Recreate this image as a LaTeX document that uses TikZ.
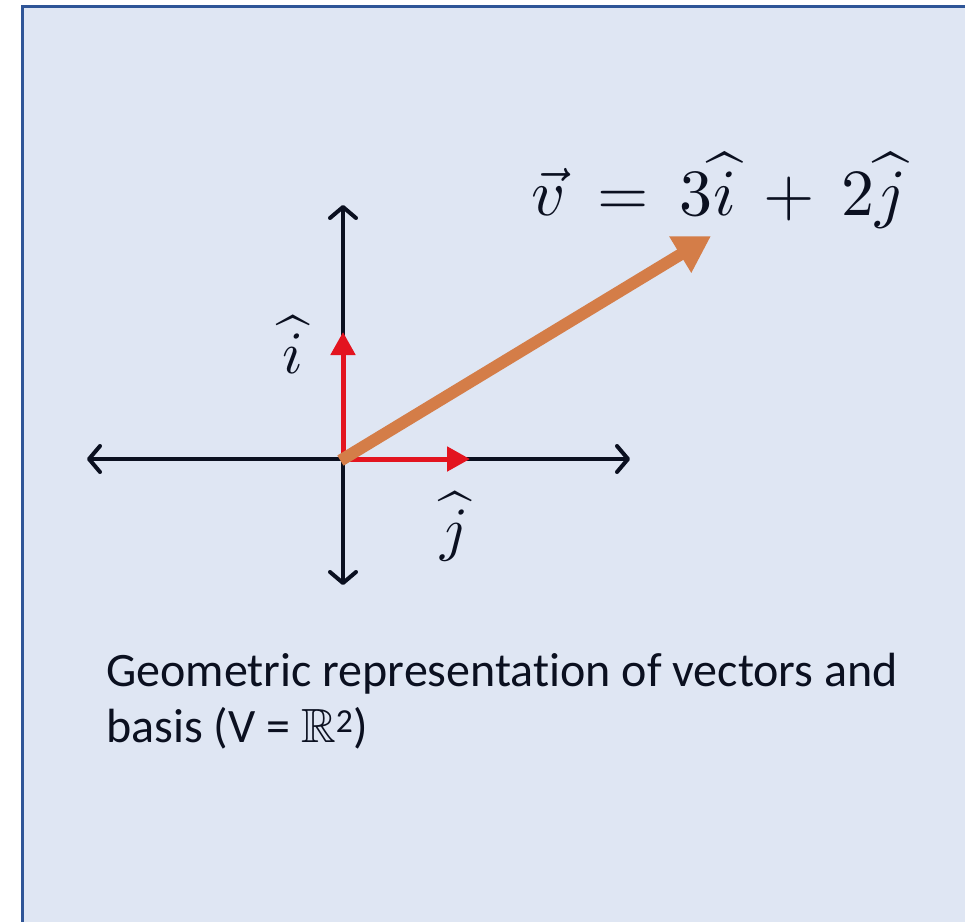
\documentclass[tikz,border=0pt]{standalone}
\usepackage{amsmath,amssymb}
\usepackage{graphicx}
\usepackage{fontspec}
\setmainfont{Carlito}[Ligatures=NoCommon]
\usetikzlibrary{arrows.meta}
\definecolor{panelfill}{HTML}{DFE6F3}
\definecolor{panelborder}{HTML}{2F5597}
\definecolor{axiscol}{HTML}{0B1020}
\definecolor{basisred}{HTML}{E3141F}
\definecolor{vecorange}{HTML}{D47D48}
\newcommand{\bigmath}[2]{\scalebox{#1}{$#2$}}
\newcommand{\gp}{\mkern3.5mu}
\tikzset{
  axisline/.style={draw=axiscol, line width=4pt, line cap=round,
    {Straight Barb[length=11pt,width=26pt,line width=4pt,round]}-{Straight Barb[length=11pt,width=26pt,line width=4pt,round]}},
  basisline/.style={draw=basisred, line width=5pt, -{Triangle[length=23pt,width=24pt]}},
  vecline/.style={draw=vecorange, line width=12pt, -{Triangle[length=36pt,width=40pt]}},
  mathlbl/.style={text=axiscol, inner sep=0pt},
  caption/.style={text=axiscol, inner sep=0pt, anchor=base west, font=\fontsize{48}{56}\selectfont}
}
\begin{document}
\begin{tikzpicture}[x=1pt,y=-1pt]
\useasboundingbox (0,0) rectangle (965,921);
\begin{scope}
\clip (0,0) rectangle (965,921);
\draw[fill=panelfill, draw=panelborder, line width=3pt] (22.5,6.5) rectangle (990,950);
\end{scope}
\coordinate (O) at (343,459);
\coordinate (top) at (343,205);
\coordinate (bot) at (343,585);
\coordinate (left) at (87,459);
\coordinate (right) at (630,459);
\coordinate (ihat) at (343,332);
\coordinate (jhat) at (470,459);
\coordinate (vtip) at (711,236);
\draw[axisline] (bot) -- (top);
\draw[axisline] (left) -- (right);
\draw[basisline] (O) -- (ihat);
\draw[basisline] (O) -- (jhat);
\draw[vecline, shorten <=-3pt] (O) -- (vtip);
\node[mathlbl] (li) at (293,345) {\bigmath{6.0}{\widehat{i}}};
\node[mathlbl] (lj) at (455,527) {\bigmath{6.0}{\widehat{j}}};
\node[mathlbl] (eq) at (719,191) {\bigmath{6.6}{\vec{v} \gp=\gp 3\widehat{i} \gp+\gp 2\widehat{j}}};
\node[caption] (c1) at (106,686) {Geometric representation of vectors and};
\node[caption] (c2) at (106,742) {basis (V = $\mathbb{R}$\textsuperscript{2})};
\end{tikzpicture}
\end{document}
